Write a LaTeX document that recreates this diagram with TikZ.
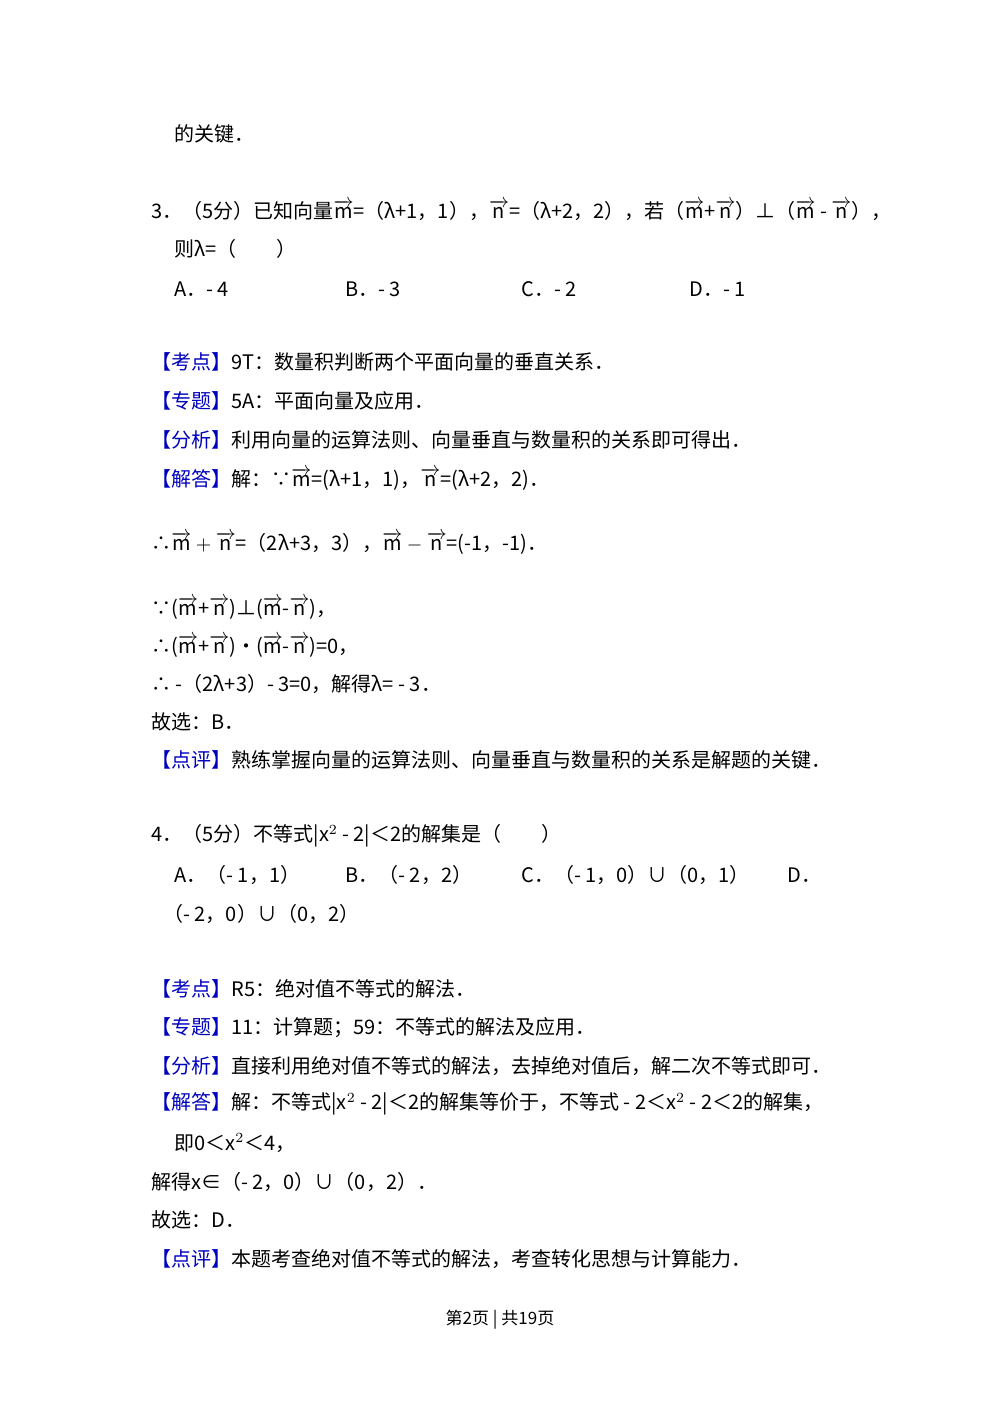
\documentclass[tikz,border=0pt]{standalone}
\usepackage{amsmath}
\usepackage{fontspec}
\setmainfont{Noto Sans CJK SC}
\begin{document}
\begin{tikzpicture}[x=0.5pt,y=-0.5pt,
  t/.style={anchor=west,inner sep=0pt,font=\fontsize{10}{12}\selectfont},
  kw/.style={text=blue!70!cyan!80!black}]
\useasboundingbox (0,0) rectangle (1000,1414);
\def\v#1{\overrightarrow{\mathrm{#1}}}
\node[t] (a1) at (174,134) {的关键．};
\node[t] (q3) at (151,210) {3．（5分）已知向量$\v{m}$=（λ+1，1），$\v{n}$=（λ+2，2），若（$\v{m}$+$\v{n}$）⊥（$\v{m}$ - $\v{n}$），};
\node[t] (q3b) at (174,249) {则λ=（　　）};
\node[t] (oA) at (174,289) {A．- 4};
\node[t] (oB) at (345,289) {B．- 3};
\node[t] (oC) at (521,289) {C．- 2};
\node[t] (oD) at (689,289) {D．- 1};
\node[t] (k1) at (151,362) {\textcolor{blue!75!black}{【考点】}9T：数量积判断两个平面向量的垂直关系．};
\node[t] (k2) at (151,401) {\textcolor{blue!75!black}{【专题】}5A：平面向量及应用．};
\node[t] (k3) at (151,440) {\textcolor{blue!75!black}{【分析】}利用向量的运算法则、向量垂直与数量积的关系即可得出．};
\node[t] (k4) at (151,479) {\textcolor{blue!75!black}{【解答】}解：∵$\v{m}$=(λ+1，1)，$\v{n}$=(λ+2，2)．};
\node[t] (k5) at (151,543) {∴$\v{m}+\v{n}$=（2λ+3，3），$\v{m}-\v{n}$=(-1，-1)．};
\node[t] (k6) at (151,608) {∵($\v{m}$+$\v{n}$)⊥($\v{m}$-$\v{n}$)，};
\node[t] (k7) at (151,646) {∴($\v{m}$+$\v{n}$)•($\v{m}$-$\v{n}$)=0，};
\node[t] (k8) at (151,684) {∴ -（2λ+3）- 3=0，解得λ= - 3．};
\node[t] (k9) at (151,722) {故选：B．};
\node[t] (k10) at (151,760) {\textcolor{blue!75!black}{【点评】}熟练掌握向量的运算法则、向量垂直与数量积的关系是解题的关键．};
\node[t] (q4) at (151,836) {4．（5分）不等式|x$^2$ - 2|＜2的解集是（　　）};
\node[t] (pA) at (174,875) {A．（- 1，1）};
\node[t] (pB) at (345,875) {B．（- 2，2）};
\node[t] (pC) at (521,875) {C．（- 1，0）∪（0，1）};
\node[t] (pD) at (787,875) {D．};
\node[t] (pD2) at (163,914) {（- 2，0）∪（0，2）};
\node[t] (m1) at (151,989) {\textcolor{blue!75!black}{【考点】}R5：绝对值不等式的解法．};
\node[t] (m2) at (151,1028) {\textcolor{blue!75!black}{【专题】}11：计算题；59：不等式的解法及应用．};
\node[t] (m3) at (151,1066) {\textcolor{blue!75!black}{【分析】}直接利用绝对值不等式的解法，去掉绝对值后，解二次不等式即可．};
\node[t] (m4) at (151,1104) {\textcolor{blue!75!black}{【解答】}解：不等式|x$^2$ - 2|＜2的解集等价于，不等式 - 2＜x$^2$ - 2＜2的解集，};
\node[t] (m5) at (174,1143) {即0＜x$^2$＜4，};
\node[t] (m6) at (151,1182) {解得x∈（- 2，0）∪（0，2）．};
\node[t] (m7) at (151,1220) {故选：D．};
\node[t] (m8) at (151,1259) {\textcolor{blue!75!black}{【点评】}本题考查绝对值不等式的解法，考查转化思想与计算能力．};
\node[t,anchor=center,font=\fontsize{8.5}{10}\selectfont] (ft) at (500,1320) {第2页 | 共19页};
\end{tikzpicture}
\end{document}
